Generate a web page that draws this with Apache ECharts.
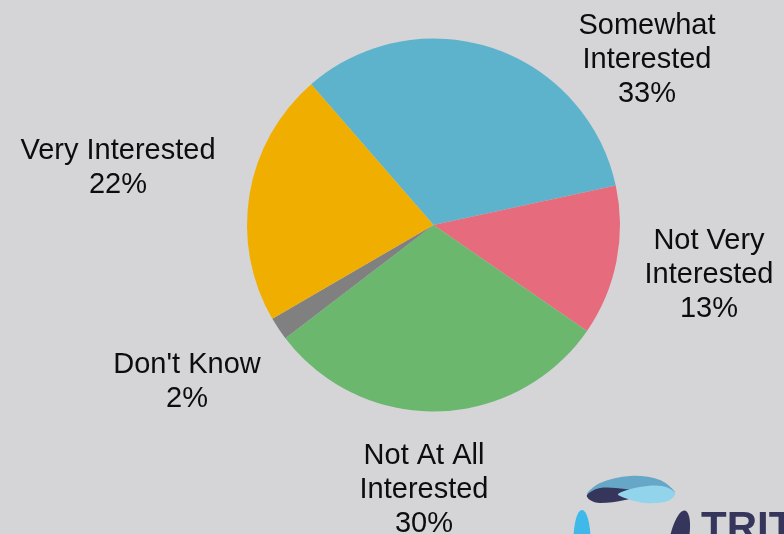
<!DOCTYPE html>
<html>
<head>
<meta charset="utf-8">
<style>
  html, body { margin: 0; padding: 0; background: #d5d5d7; }
  #chart { width: 784px; height: 534px; }
</style>
<script src="https://cdn.jsdelivr.net/npm/echarts@6/dist/echarts.min.js"></script>
</head>
<body>
<div id="chart"></div>
<script>
// Survey responses: level of interest (percent of respondents)
const categories = [
  'Somewhat\nInterested',
  'Not Very\nInterested',
  'Not At All\nInterested',
  "Don't Know",
  'Very Interested'
];
const shares = [33, 13, 30, 2, 22];
const sliceColors = ['#5eb3cc', '#e66c7d', '#6bb76e', '#808080', '#f0ae00'];

// Where each category's caption sits (centre of the text block)
const captionAnchors = [
  [647, 60],
  [709, 275],
  [424, 490],
  [187, 382],
  [118, 168]
];

const chart = echarts.init(document.getElementById('chart'), null, { renderer: 'canvas' });

const labelFont = {
  fontFamily: '"Liberation Sans", Arial, sans-serif',
  fontSize: 29,
  lineHeight: 34,
  color: '#0d0d0d'
};

chart.setOption({
  backgroundColor: '#d5d5d7',
  animation: false,
  series: [{
    type: 'pie',
    center: [433.5, 225],
    radius: [0, 186.5],
    startAngle: 131,
    clockwise: true,
    avoidLabelOverlap: false,
    silent: true,
    data: categories.map((name, i) => ({
      name: name,
      value: shares[i],
      itemStyle: { color: sliceColors[i] }
    })),
    itemStyle: { borderWidth: 0 },
    label: Object.assign({
      show: true,
      position: 'outside',
      align: 'center',
      formatter: p => p.name + '\n' + p.value + '%'
    }, labelFont),
    labelLine: { show: false },
    labelLayout: params => ({
      x: captionAnchors[params.dataIndex][0],
      y: captionAnchors[params.dataIndex][1],
      align: 'center',
      verticalAlign: 'middle'
    })
  }],
  graphic: [
    // brand mark in the lower-right corner
    {
      type: 'group',
      silent: true,
      children: [
        { type: 'polygon', shape: { smooth: 0.35, points: [[587, 494], [600, 483], [630, 476], [660, 480], [675, 493], [650, 488], [625, 490], [600, 492]] }, style: { fill: '#66a7c7' } },
        { type: 'polygon', shape: { smooth: 0.35, points: [[587, 495], [600, 488], [625, 489], [648, 493], [625, 500], [600, 503], [590, 500]] }, style: { fill: '#36355b' } },
        { type: 'polygon', shape: { smooth: 0.35, points: [[618, 494], [640, 487], [662, 486], [675, 493], [668, 501], [645, 503], [628, 499]] }, style: { fill: '#92d4ec' } },
        { type: 'circle', shape: { cx: 0, cy: 0, r: 10 }, x: 582, y: 540, scaleX: 0.85, scaleY: 3, style: { fill: '#3fb8ea' } },
        { type: 'circle', shape: { cx: 0, cy: 0, r: 10 }, x: 679, y: 540, scaleX: 0.95, scaleY: 3, rotation: -0.2, style: { fill: '#36355b' } },
        {
          type: 'text',
          x: 701,
          y: 508,
          style: {
            text: 'TRITON',
            fill: '#36355b',
            font: 'bold 42px "Liberation Sans", Arial, sans-serif',
            verticalAlign: 'top'
          }
        }
      ]
    }
  ]
});
</script>
</body>
</html>
